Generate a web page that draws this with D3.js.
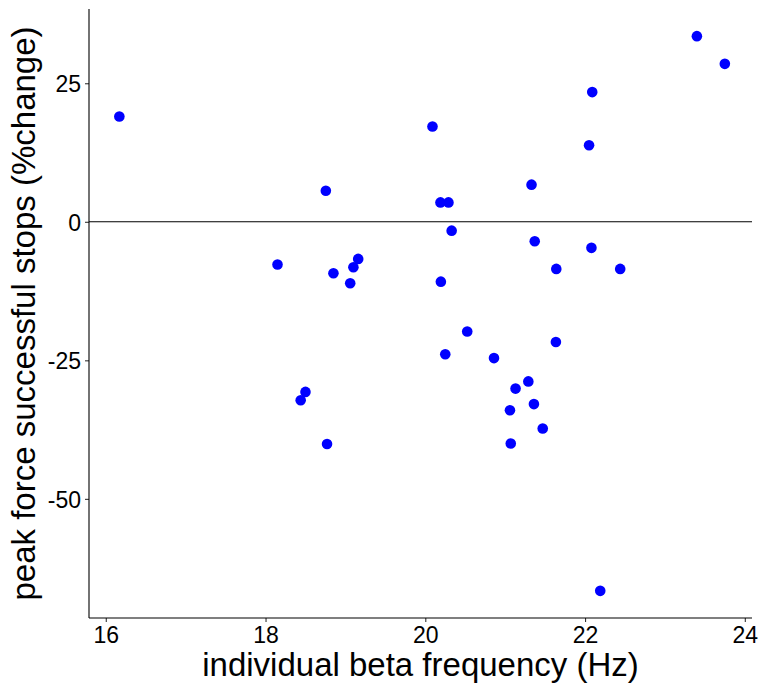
<!DOCTYPE html>
<html>
<head>
<meta charset="utf-8">
<script src="https://cdn.jsdelivr.net/npm/d3@7"></script>
<style>
  body { margin: 0; background: #fff; }
  svg { display: block; font-family: "Liberation Sans", Arial, sans-serif; }
</style>
</head>
<body>
<svg width="766" height="686"></svg>
<script>
// beta frequency (Hz) and peak force change (%) per participant
const betaFreq = [16.17, 20.09, 18.755, 20.19, 20.29, 20.33, 18.15, 18.85, 19.10, 19.16,
  19.06, 20.195, 20.525, 20.25, 20.86, 18.50, 18.44, 18.77, 23.40, 23.75,
  22.09, 22.05, 21.33, 21.37, 22.08, 21.64, 22.44, 21.635, 21.29, 21.13,
  21.36, 21.06, 21.47, 21.07, 22.19];
const forceChange = [19.0, 17.2, 5.6, 3.5, 3.5, -1.6, -7.7, -9.3, -8.2, -6.7,
  -11.1, -10.8, -19.8, -23.9, -24.6, -30.7, -32.2, -40.1, 33.5, 28.5,
  23.4, 13.8, 6.7, -3.5, -4.7, -8.5, -8.5, -21.7, -28.8, -30.1,
  -32.9, -34.0, -37.3, -40.0, -66.6];
const xTicks = [16, 18, 20, 22, 24];
const yTicks = [-50, -25, 0, 25];

const data = betaFreq.map((f, i) => ({x: f, y: forceChange[i]}));

const svg = d3.select('svg');
const panel = {left: 89, right: 752, top: 9, bottom: 618};

const x = d3.scaleLinear().domain([15.79, 24.09]).range([panel.left, panel.right]);
const y = d3.scaleLinear().domain([-71.5, 38.4]).range([panel.bottom, panel.top]);

// zero reference line
svg.append('line')
  .attr('x1', panel.left).attr('x2', panel.right)
  .attr('y1', y(0)).attr('y2', y(0))
  .attr('stroke', '#000').attr('stroke-width', 1.1);

// points
svg.append('g')
  .selectAll('circle')
  .data(data).enter()
  .append('circle')
  .attr('cx', d => x(d.x))
  .attr('cy', d => y(d.y))
  .attr('r', 5.3)
  .attr('fill', '#0000ff');

// axes (plain hyphen for negatives, like R)
const fmt = d => String(d);
const xAxis = svg.append('g')
  .attr('transform', `translate(0,${panel.bottom})`)
  .call(d3.axisBottom(x).tickValues(xTicks).tickSize(4).tickPadding(3).tickFormat(fmt));
const yAxis = svg.append('g')
  .attr('transform', `translate(${panel.left},0)`)
  .call(d3.axisLeft(y).tickValues(yTicks).tickSize(4).tickPadding(4).tickFormat(fmt));

[xAxis, yAxis].forEach(ax => {
  ax.select('.domain').remove();
  ax.selectAll('.tick line').attr('stroke', '#333').attr('stroke-width', 1.1);
  ax.selectAll('.tick text').attr('fill', '#000').style('font-size', '23px')
    .style('font-family', '"Liberation Sans", Arial, sans-serif');
});
xAxis.selectAll('.tick text').attr('dy', '0.8em');
yAxis.selectAll('.tick text').attr('dy', '0.36em');

// axis lines
svg.append('line')
  .attr('x1', panel.left).attr('x2', panel.right)
  .attr('y1', panel.bottom).attr('y2', panel.bottom)
  .attr('stroke', '#000').attr('stroke-width', 1.1);
svg.append('line')
  .attr('x1', panel.left).attr('x2', panel.left)
  .attr('y1', panel.top).attr('y2', panel.bottom)
  .attr('stroke', '#000').attr('stroke-width', 1.1);

// titles
svg.append('text')
  .attr('x', (panel.left + panel.right) / 2)
  .attr('y', 676)
  .attr('text-anchor', 'middle')
  .style('font-size', '33px')
  .text('individual beta frequency (Hz)');

svg.append('text')
  .attr('transform', `translate(35,${(panel.top + panel.bottom) / 2}) rotate(-90)`)
  .attr('text-anchor', 'middle')
  .style('font-size', '33px')
  .text('peak force successful stops (%change)');
</script>
</body>
</html>
